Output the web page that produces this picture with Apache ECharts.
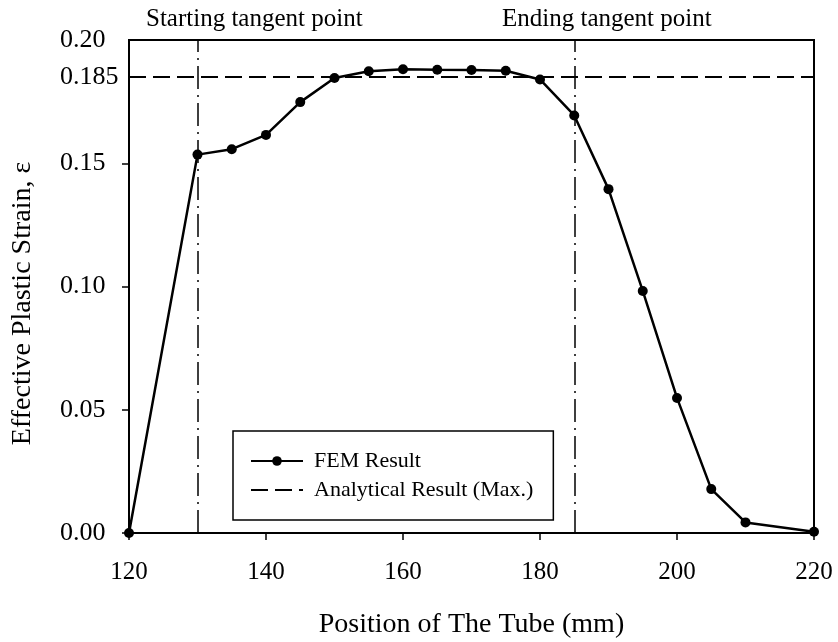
<!DOCTYPE html>
<html>
<head>
<meta charset="utf-8">
<script src="https://cdn.jsdelivr.net/npm/echarts@6/dist/echarts.min.js"></script>
<style>html,body{margin:0;padding:0;background:#fff}#c{width:838px;height:642px}</style>
</head>
<body>
<div id="c"></div>
<script>
const positions = [120, 130, 135, 140, 145, 150, 155, 160, 165, 170, 175, 180, 185, 190, 195, 200, 205, 210, 220];
const femStrain = [0, 0.1535, 0.1557, 0.1615, 0.1748, 0.1846, 0.1873, 0.1881, 0.1879, 0.1878, 0.1875, 0.1840, 0.1694, 0.1395, 0.0982, 0.0548, 0.0178, 0.0043, 0.0005];
const analyticalMax = 0.185;
const tangentPoints = [130, 185];
const tangentLabels = ['Starting tangent point', 'Ending tangent point'];
const yLabelValues = [0, 0.05, 0.10, 0.15, 0.185, 0.20];
const yLabelTexts = ['0.00', '0.05', '0.10', '0.15', '0.185', '0.20'];
const yTickValues = [0, 0.05, 0.10, 0.15];
const xTicks = [120, 140, 160, 180, 200, 220];

const FONT = 'Liberation Serif';
const chart = echarts.init(document.getElementById('c'));
chart.setOption({
  animation: false,
  backgroundColor: '#fff',
  textStyle: { fontFamily: FONT, color: '#000' },
  grid: { left: 129, top: 40, right: 24, bottom: 109, outerBoundsMode: 'none', containLabel: false, show: true, borderColor: '#000', borderWidth: 2, backgroundColor: 'transparent' },
  legend: {
    orient: 'vertical', left: 233, top: 431,
    padding: [19, 20, 19, 17],
    borderColor: '#000', borderWidth: 1.5,
    itemWidth: 52, itemHeight: 12, itemGap: 7,
    textStyle: { fontFamily: FONT, fontSize: 22, color: '#000', lineHeight: 22, padding: [0, 0, 0, 6] },
    data: [
      { name: 'FEM Result' },
      { name: 'Analytical Result (Max.)', itemStyle: { opacity: 0 } }
    ]
  },
  xAxis: {
    type: 'value', min: 120, max: 220, interval: 20,
    name: 'Position of The Tube (mm)', nameLocation: 'middle', nameGap: 78,
    nameTextStyle: { fontFamily: FONT, fontSize: 28, color: '#000' },
    axisLine: { show: true, lineStyle: { color: '#000', width: 2 } },
    axisTick: { show: true, inside: false, length: 7, lineStyle: { color: '#000', width: 1.5 }, customValues: xTicks },
    axisLabel: { fontFamily: FONT, fontSize: 25, color: '#000', margin: 27, customValues: xTicks },
    splitLine: { show: false }
  },
  yAxis: {
    type: 'value', min: 0, max: 0.2, interval: 0.05,
    name: 'Effective Plastic Strain, ε', nameLocation: 'middle', nameGap: 92,
    nameTextStyle: { fontFamily: FONT, fontSize: 28, color: '#000', padding: [0, 34, 0, 0] },
    axisLine: { show: true, lineStyle: { color: '#000', width: 2 } },
    axisTick: { show: true, inside: false, length: 7, lineStyle: { color: '#000', width: 1.5 }, customValues: yTickValues },
    axisLabel: {
      fontFamily: FONT, fontSize: 26, color: '#000', margin: 69, align: 'left',
      customValues: yLabelValues,
      formatter: function (v) {
        for (let i = 0; i < yLabelValues.length; i++) if (Math.abs(v - yLabelValues[i]) < 1e-9) return yLabelTexts[i];
        return '';
      }
    },
    splitLine: { show: false }
  },
  series: [
    {
      name: 'FEM Result', type: 'line',
      data: positions.map((p, i) => [p, femStrain[i]]),
      symbol: 'circle', symbolSize: 10, showSymbol: true,
      lineStyle: { color: '#000', width: 2.5 },
      itemStyle: { color: '#000' },
      z: 5,
      markLine: {
        silent: true, symbol: 'none',
        lineStyle: { color: '#000', width: 1.5, type: [23, 6, 2, 6] },
        label: { show: false },
        data: tangentPoints.map(t => ({ xAxis: t }))
      }
    },
    {
      name: 'Analytical Result (Max.)', type: 'line',
      data: [[120, analyticalMax], [220, analyticalMax]],
      symbol: 'none', showSymbol: false,
      lineStyle: { color: '#000', width: 2, type: [17, 7] },
      itemStyle: { color: '#000' },
      z: 4
    }
  ],
  graphic: [
    { type: 'text', left: 146, top: 7, style: { text: tangentLabels[0], font: '25px "Liberation Serif"', fill: '#000' } },
    { type: 'text', left: 502, top: 7, style: { text: tangentLabels[1], font: '25px "Liberation Serif"', fill: '#000' } }
  ]
});
</script>
</body>
</html>
